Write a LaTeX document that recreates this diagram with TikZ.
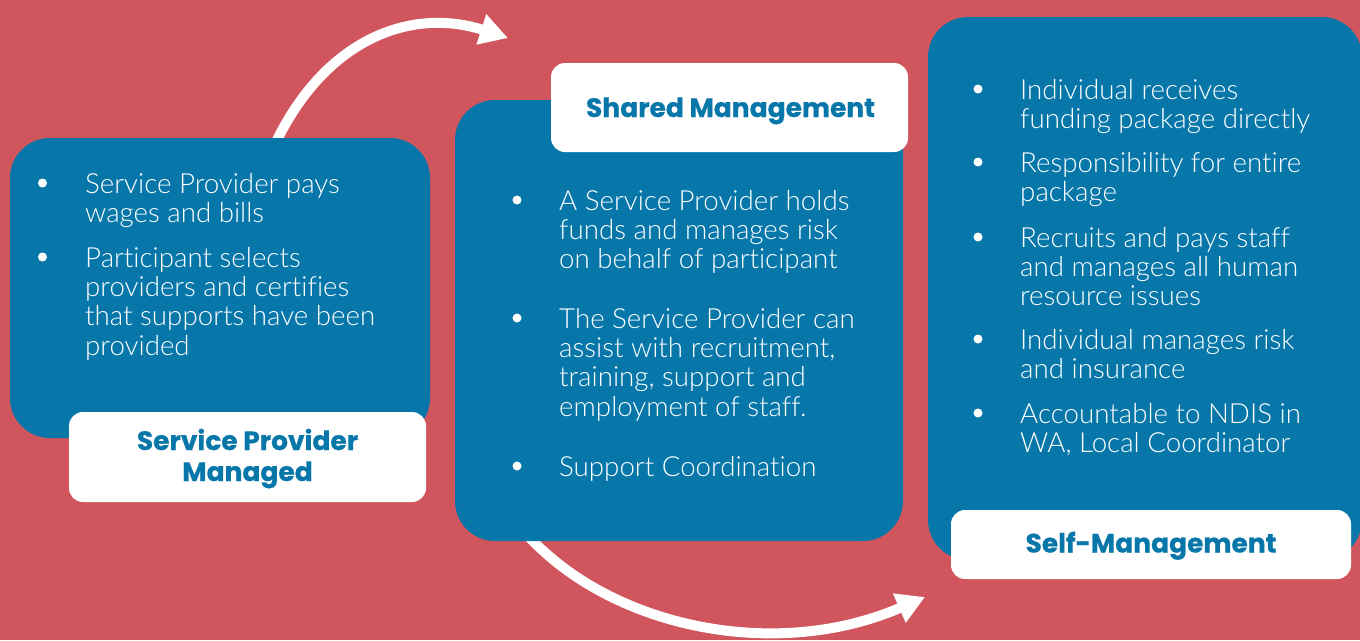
\documentclass[tikz,border=0pt]{standalone}
\usepackage{fontspec}
\setmainfont{Lato Light}[Ligatures={CommonOff},RawFeature={-liga;-dlig;-calt}]
\newfontfamily\labelfont{Poppins}[BoldFeatures={FakeBold=0.6}]
\usetikzlibrary{arrows.meta}
\definecolor{bgred}{HTML}{D0555D}
\definecolor{boxblue}{HTML}{0777AA}
\begin{document}
\begin{tikzpicture}[x=1pt,y=-1pt,
  panel/.style={fill=boxblue,rounded corners=40pt,inner sep=0pt},
  tag/.style={fill=white,rounded corners=14pt,inner sep=0pt,text=boxblue,
    font=\labelfont\bfseries\fontsize{26.5}{31}\selectfont,align=center},
  body/.style={text=white,font=\fontsize{27.7}{29}\selectfont,anchor=base west,inner sep=0pt},
  dot/.style={circle,fill=white,minimum size=9pt,inner sep=0pt},
  flow/.style={draw=white,line width=10pt,-{Triangle[length=28pt,width=30pt]}}]
\useasboundingbox (0,0) rectangle (1360,640);
\fill[bgred] (0,0) rectangle (1360,640);

% curved arrows running behind the panels
\coordinate (a1s) at (268,158);
\coordinate (a1b) at (278,138);
\coordinate (a1e) at (508,38);
\coordinate (a2s) at (515,523);
\coordinate (a2b) at (533,541);
\coordinate (a2e) at (925,597);
\draw[flow] (a1s) -- (a1b) .. controls (330,35) and (415,8) .. (a1e);
\draw[flow] (a2s) -- (a2b) .. controls (620,630) and (780,660) .. (a2e);

% panels
\node[panel,minimum width=420pt,minimum height=300pt] (p1) at (220,288) {};
\node[panel,minimum width=448pt,minimum height=441pt] (p2) at (679,320.5) {};
\begin{scope}
\clip (0,0) rectangle (1360,640);
\node[panel,minimum width=434pt,minimum height=543pt] (p3) at (1145,288.5) {};
\end{scope}

% titles
\node[tag,minimum width=357pt,minimum height=90pt] (t1) at (247.5,457) {};
\node[tag,anchor=base] (t1a) at (247.5,450) {Service Provider};
\node[tag,anchor=base] (t1b) at (247.5,481) {Managed};
\node[tag,minimum width=357pt,minimum height=89pt] (t2) at (729.5,107.5) {};
\node[tag,anchor=base] (t2a) at (730.5,117) {Shared Management};
\node[tag,minimum width=400pt,minimum height=69pt] (t3) at (1151,544.5) {};
\node[tag,anchor=base] (t3a) at (1151,552.5) {Self-Management};

% Service Provider Managed
\node[dot] (d11) at (42.5,183) {};
\node[body] (l11) at (85,193) {Service Provider pays};
\node[body] (l12) at (85,222.3) {wages and bills};
\node[dot] (d12) at (42.5,257) {};
\node[body] (l13) at (85,267) {Participant selects};
\node[body] (l14) at (85,296.3) {providers and certifies};
\node[body] (l15) at (85,325.6) {that supports have been};
\node[body] (l16) at (85,355) {provided};

% Shared Management
\node[dot] (d21) at (517,200) {};
\node[body] (l21) at (559,210) {A Service Provider holds};
\node[body] (l22) at (559,239.3) {funds and manages risk};
\node[body] (l23) at (559,268.6) {on behalf of participant};
\node[dot] (d22) at (517,318) {};
\node[body] (l24) at (559,328) {The Service Provider can};
\node[body] (l25) at (559,357.3) {assist with recruitment,};
\node[body] (l26) at (559,386.6) {training, support and};
\node[body] (l27) at (559,416) {employment of staff.};
\node[dot] (d23) at (517,466) {};
\node[body] (l28) at (559,476) {Support Coordination};

% Self-Management
\node[dot] (d31) at (978,89) {};
\node[body] (l31) at (1020,99) {Individual receives};
\node[body] (l32) at (1020,128.3) {funding package directly};
\node[dot] (d32) at (978,162) {};
\node[body] (l33) at (1020,172) {Responsibility for entire};
\node[body] (l34) at (1020,201.3) {package};
\node[dot] (d33) at (978,237) {};
\node[body] (l35) at (1020,247) {Recruits and pays staff};
\node[body] (l36) at (1020,276.3) {and manages all human};
\node[body] (l37) at (1020,305.6) {resource issues};
\node[dot] (d34) at (978,339) {};
\node[body] (l38) at (1020,349) {Individual manages risk};
\node[body] (l39) at (1020,378.3) {and insurance};
\node[dot] (d35) at (978,413) {};
\node[body] (l3a) at (1020,423) {Accountable to NDIS in};
\node[body] (l3b) at (1020,452.3) {WA, Local Coordinator};
\end{tikzpicture}
\end{document}
